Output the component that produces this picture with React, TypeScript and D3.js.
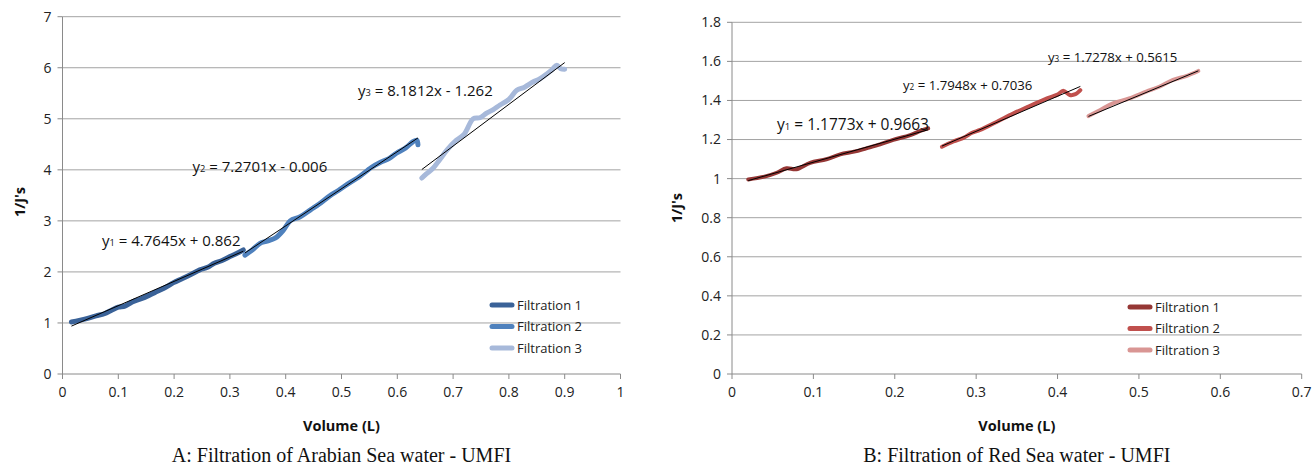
import React from "react";
import * as d3 from "d3";

// ---------- Data ----------
const A_F1: [number, number][] = [
  [0.016, 1.02], [0.03, 1.05], [0.045, 1.09], [0.06, 1.14], [0.075, 1.18], [0.088, 1.25],
  [0.1, 1.31], [0.112, 1.33], [0.125, 1.41], [0.14, 1.47], [0.155, 1.54], [0.17, 1.62],
  [0.185, 1.7], [0.199, 1.79], [0.215, 1.87], [0.23, 1.95], [0.246, 2.04], [0.26, 2.09],
  [0.272, 2.17], [0.285, 2.22], [0.3, 2.3], [0.312, 2.36], [0.324, 2.43],
];
const A_F2: [number, number][] = [
  [0.327, 2.33], [0.34, 2.43], [0.354, 2.56], [0.365, 2.6], [0.381, 2.66], [0.396, 2.82],
  [0.408, 3.0], [0.426, 3.08], [0.445, 3.22], [0.46, 3.33], [0.479, 3.49], [0.495, 3.6],
  [0.515, 3.75], [0.53, 3.85], [0.554, 4.05], [0.57, 4.15], [0.585, 4.22], [0.599, 4.33],
  [0.615, 4.43], [0.628, 4.55], [0.635, 4.58], [0.637, 4.49],
];
const A_F3: [number, number][] = [
  [0.644, 3.84], [0.652, 3.92], [0.664, 4.03], [0.676, 4.2], [0.69, 4.4], [0.706, 4.58],
  [0.72, 4.7], [0.736, 5.0], [0.748, 5.02], [0.76, 5.11], [0.772, 5.18], [0.784, 5.27],
  [0.8, 5.38], [0.814, 5.56], [0.828, 5.62], [0.843, 5.72], [0.855, 5.78], [0.868, 5.88],
  [0.878, 5.97], [0.886, 6.05], [0.893, 5.98], [0.9, 5.97],
];
const B_F1: [number, number][] = [
  [0.02, 0.996], [0.04, 1.01], [0.055, 1.03], [0.067, 1.053], [0.079, 1.048], [0.096, 1.081],
  [0.116, 1.099], [0.133, 1.124], [0.15, 1.138], [0.165, 1.155], [0.182, 1.175], [0.198, 1.198],
  [0.219, 1.223], [0.232, 1.245], [0.241, 1.257],
];
const B_F2: [number, number][] = [
  [0.258, 1.163], [0.272, 1.19], [0.285, 1.21], [0.295, 1.235], [0.305, 1.249], [0.325, 1.29],
  [0.346, 1.334], [0.365, 1.37], [0.387, 1.411], [0.4, 1.43], [0.407, 1.45], [0.415, 1.428],
  [0.422, 1.432], [0.428, 1.453],
];
const B_F3: [number, number][] = [
  [0.438, 1.32], [0.452, 1.35], [0.468, 1.385], [0.488, 1.41], [0.509, 1.445], [0.525, 1.47],
  [0.542, 1.505], [0.558, 1.525], [0.573, 1.551],
];

const SERIES_NAMES = ["Filtration 1", "Filtration 2", "Filtration 3"];
const A_COLORS = ["#3a6298", "#4f81bd", "#a7b9da"];
const B_COLORS = ["#953735", "#c0504d", "#d99694"];

const A_SLOPES = [4.7645, 7.2701, 8.1812];
const A_INTERCEPTS = [0.862, -0.006, -1.262];
const A_EQ_TEXT = [" = 4.7645x + 0.862", " = 7.2701x - 0.006", " = 8.1812x - 1.262"];
const B_SLOPES = [1.1773, 1.7948, 1.7278];
const B_INTERCEPTS = [0.9663, 0.7036, 0.5615];
const B_EQ_TEXT = [" = 1.1773x + 0.9663", " = 1.7948x + 0.7036", " = 1.7278x + 0.5615"];

const A_XTICKS = [0, 0.1, 0.2, 0.3, 0.4, 0.5, 0.6, 0.7, 0.8, 0.9, 1];
const A_YTICKS = [0, 1, 2, 3, 4, 5, 6, 7];
const B_XTICKS = [0, 0.1, 0.2, 0.3, 0.4, 0.5, 0.6, 0.7];
const B_YTICKS = [0, 0.2, 0.4, 0.6, 0.8, 1, 1.2, 1.4, 1.6, 1.8];

const FONT = "'Open Sans', sans-serif";

type PanelProps = {
  series: [number, number][][];
  colors: string[];
  slopes: number[];
  intercepts: number[];
  eqText: string[];
  eqPos: { x: number; y: number; size: number }[];
  xTicks: number[];
  yTicks: number[];
  xDomain: [number, number];
  yDomain: [number, number];
  xRange: [number, number];
  yRange: [number, number];
  yTitleX: number;
  yTitleY: number;
  legendX: number;
  legendY: number;
  caption: string;
  lineWidth: number;
};

function Panel(p: PanelProps) {
  const x = d3.scaleLinear().domain(p.xDomain).range(p.xRange);
  const y = d3.scaleLinear().domain(p.yDomain).range(p.yRange);
  const line = d3
    .line<[number, number]>()
    .x((d) => x(d[0]))
    .y((d) => y(d[1]))
    .curve(d3.curveCatmullRom);
  const fmt = (v: number) => String(+v.toFixed(2));
  const cx = (p.xRange[0] + p.xRange[1]) / 2;
  return (
    <g>
      {p.yTicks.map((t) => (
        <g key={"y" + t}>
          {t !== 0 && (
            <line x1={p.xRange[0]} x2={p.xRange[1]} y1={y(t)} y2={y(t)} stroke="#a3a3a3" strokeWidth={1} />
          )}
          <line x1={p.xRange[0] - 5} x2={p.xRange[0]} y1={y(t)} y2={y(t)} stroke="#8a8a8a" strokeWidth={1} />
          <text x={p.xRange[0] - 11} y={y(t)} dy="0.35em" textAnchor="end" fontSize={14} fontFamily={FONT} fill="#222">
            {fmt(t)}
          </text>
        </g>
      ))}
      <line x1={p.xRange[0]} x2={p.xRange[1]} y1={p.yRange[0]} y2={p.yRange[0]} stroke="#8a8a8a" strokeWidth={1} />
      <line x1={p.xRange[0]} x2={p.xRange[0]} y1={p.yRange[0]} y2={p.yRange[1]} stroke="#8a8a8a" strokeWidth={1} />
      {p.xTicks.map((t) => (
        <g key={"x" + t}>
          <line x1={x(t)} x2={x(t)} y1={p.yRange[0]} y2={p.yRange[0] + 5} stroke="#8a8a8a" strokeWidth={1} />
          <text x={x(t)} y={p.yRange[0] + 23} textAnchor="middle" fontSize={14} fontFamily={FONT} fill="#222">
            {fmt(t)}
          </text>
        </g>
      ))}
      {p.series.map((s, i) => (
        <path key={"s" + i} d={line(s) || ""} fill="none" stroke={p.colors[i]} strokeWidth={p.lineWidth}
          strokeLinecap="round" strokeLinejoin="round" />
      ))}
      {p.series.map((s, i) => {
        const x0 = s[0][0];
        const x1 = s[s.length - 1][0];
        return (
          <line key={"t" + i} x1={x(x0)} x2={x(x1)} y1={y(p.slopes[i] * x0 + p.intercepts[i])}
            y2={y(p.slopes[i] * x1 + p.intercepts[i])} stroke="#000" strokeWidth={1} />
        );
      })}
      {p.eqPos.map((e, i) => (
        <text key={"e" + i} x={e.x} y={e.y} fontSize={e.size} fontFamily={FONT} fill="#111">
          y<tspan fontSize={e.size * 0.62}>{i + 1}</tspan>
          {p.eqText[i]}
        </text>
      ))}
      {SERIES_NAMES.map((n, i) => (
        <g key={"l" + i}>
          <line x1={p.legendX} x2={p.legendX + 20} y1={p.legendY + i * 21.5} y2={p.legendY + i * 21.5}
            stroke={p.colors[i]} strokeWidth={5} strokeLinecap="round" />
          <text x={p.legendX + 25} y={p.legendY + i * 21.5} dy="0.35em" fontSize={13} fontFamily={FONT} fill="#222">
            {n}
          </text>
        </g>
      ))}
      <text x={cx} y={431} textAnchor="middle" fontSize={14.5} fontWeight="bold" fontFamily={FONT} fill="#111">
        Volume (L)
      </text>
      <text transform={`translate(${p.yTitleX},${p.yTitleY}) rotate(-90)`} textAnchor="middle" fontSize={14.5}
        fontWeight="bold" fontFamily={FONT} fill="#111">
        1/J's
      </text>
      <text x={cx} y={462} textAnchor="middle" fontSize={20} fontFamily="'Liberation Serif', serif" fill="#111">
        {p.caption}
      </text>
    </g>
  );
}

export default function App() {
  return (
    <svg width={1312} height={468} style={{ position: "absolute", left: 0, top: 0, background: "#fff" }}>
      <rect width={1312} height={468} fill="#fff" />
      <Panel
        series={[A_F1, A_F2, A_F3]}
        colors={A_COLORS}
        slopes={A_SLOPES}
        intercepts={A_INTERCEPTS}
        eqText={A_EQ_TEXT}
        eqPos={[
          { x: 102, y: 246, size: 15 },
          { x: 192.5, y: 171.5, size: 15 },
          { x: 358, y: 96, size: 15 },
        ]}
        xTicks={A_XTICKS}
        yTicks={A_YTICKS}
        xDomain={[0, 1]}
        yDomain={[0, 7]}
        xRange={[62.5, 620.5]}
        yRange={[374, 16.7]}
        yTitleX={25}
        yTitleY={202}
        legendX={492}
        legendY={305}
        caption="A: Filtration of Arabian Sea water - UMFI"
        lineWidth={5}
      />
      <Panel
        series={[B_F1, B_F2, B_F3]}
        colors={B_COLORS}
        slopes={B_SLOPES}
        intercepts={B_INTERCEPTS}
        eqText={B_EQ_TEXT}
        eqPos={[
          { x: 777, y: 130, size: 15.5 },
          { x: 903, y: 90, size: 13.2 },
          { x: 1048, y: 61.5, size: 13.2 },
        ]}
        xTicks={B_XTICKS}
        yTicks={B_YTICKS}
        xDomain={[0, 0.7]}
        yDomain={[0, 1.8]}
        xRange={[732, 1301.7]}
        yRange={[374, 22.3]}
        yTitleX={682}
        yTitleY={208}
        legendX={1130}
        legendY={307}
        caption="B: Filtration of Red Sea water - UMFI"
        lineWidth={4}
      />
    </svg>
  );
}
